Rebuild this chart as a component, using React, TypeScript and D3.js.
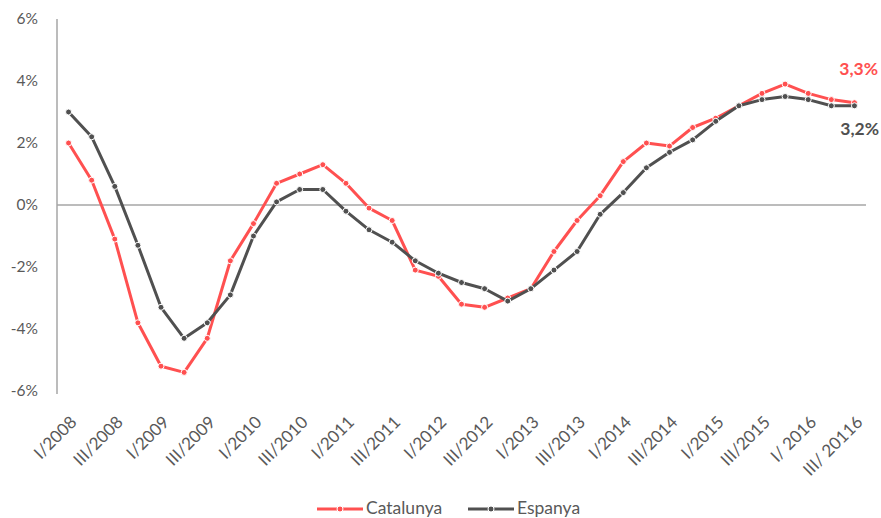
import React from "react";
import * as d3 from "d3";

const quarters = [
  "I/2008", "II/2008", "III/2008", "IV/2008",
  "I/2009", "II/2009", "III/2009", "IV/2009",
  "I/2010", "II/2010", "III/2010", "IV/2010",
  "I/2011", "II/2011", "III/2011", "IV/2011",
  "I/2012", "II/2012", "III/2012", "IV/2012",
  "I/2013", "II/2013", "III/2013", "IV/2013",
  "I/2014", "II/2014", "III/2014", "IV/2014",
  "I/2015", "II/2015", "III/2015", "IV/2015",
  "I/2016", "II/2016", "III/2016",
];

// labels shown on the axis (every other quarter), as printed in the source
const tickLabels = [
  "I/2008", "III/2008", "I/2009", "III/2009", "I/2010", "III/2010",
  "I/2011", "III/2011", "I/2012", "III/2012", "I/2013", "III/2013",
  "I/2014", "III/2014", "I/2015", "III/2015", "I/ 2016", "III/ 20116",
];

const catalunya = [
  2.0, 0.8, -1.1, -3.8, -5.2, -5.4, -4.3, -1.8, -0.6, 0.7, 1.0, 1.3,
  0.7, -0.1, -0.5, -2.1, -2.3, -3.2, -3.3, -3.0, -2.7, -1.5, -0.5, 0.3,
  1.4, 2.0, 1.9, 2.5, 2.8, 3.2, 3.6, 3.9, 3.6, 3.4, 3.3,
];

const espanya = [
  3.0, 2.2, 0.6, -1.3, -3.3, -4.3, -3.8, -2.9, -1.0, 0.1, 0.5, 0.5,
  -0.2, -0.8, -1.2, -1.8, -2.2, -2.5, -2.7, -3.1, -2.7, -2.1, -1.5, -0.3,
  0.4, 1.2, 1.7, 2.1, 2.7, 3.2, 3.4, 3.5, 3.4, 3.2, 3.2,
];

const yTicks = [-6, -4, -2, 0, 2, 4, 6];

const RED = "#FF5050";
const GREY = "#505050";
const FONT = "Lato, 'Open Sans', sans-serif";

export default function App() {
  const width = 881;
  const height = 518;
  const margin = { top: 19, right: 15, bottom: 127, left: 57 };

  const x = d3
    .scalePoint<string>()
    .domain(quarters)
    .range([margin.left, width - margin.right])
    .padding(0.5);

  const y = d3
    .scaleLinear()
    .domain([-6, 6])
    .range([height - margin.bottom, margin.top]);

  const line = d3
    .line<number>()
    .x((_, i) => x(quarters[i]) as number)
    .y((d) => y(d));

  const series = [
    { name: "Catalunya", values: catalunya, color: RED },
    { name: "Espanya", values: espanya, color: GREY },
  ];

  const last = quarters.length - 1;

  return (
    <svg width={width} height={height} style={{ position: "absolute", left: 0, top: 0 }}>
      {/* y axis */}
      <line x1={margin.left} x2={margin.left} y1={y(6)} y2={y(-6) + 3} stroke="#A6A6A6" strokeWidth={1.5} />
      <line x1={margin.left} x2={width - margin.right} y1={y(0)} y2={y(0)} stroke="#A6A6A6" strokeWidth={1.5} />
      {yTicks.map((t) => (
        <text
          key={t}
          x={38}
          y={y(t)}
          dy="0.35em"
          textAnchor="end"
          fontFamily={FONT}
          fontSize={15.5}
          fill="#595959"
        >
          {`${t}%`}
        </text>
      ))}

      {/* x tick labels */}
      {tickLabels.map((lab, i) => {
        const px = x(quarters[i * 2]) as number;
        return (
          <text
            key={lab}
            transform={`translate(${px + 5},${419}) rotate(-45)`}
            textAnchor="end"
            dy="0.35em"
            fontFamily={FONT}
            fontSize={17}
            fill="#595959"
          >
            {lab}
          </text>
        );
      })}

      {/* series */}
      {series.map((s) => (
        <g key={s.name}>
          <path d={line(s.values) ?? ""} fill="none" stroke={s.color} strokeWidth={3} strokeLinejoin="round" />
          {s.values.map((v, i) => (
            <circle
              key={i}
              cx={x(quarters[i]) as number}
              cy={y(v)}
              r={3}
              fill={s.color}
              stroke="#fff"
              strokeWidth={1}
            />
          ))}
        </g>
      ))}

      {/* end labels */}
      <text
        x={878}
        y={y(catalunya[last]) - 28}
        textAnchor="end"
        fontFamily={FONT}
        fontSize={17.5}
        fontWeight="bold"
        fill={RED}
      >
        {`${String(catalunya[last]).replace(".", ",")}%`}
      </text>
      <text
        x={879}
        y={y(espanya[last]) + 29}
        textAnchor="end"
        fontFamily={FONT}
        fontSize={17.5}
        fontWeight="bold"
        fill={GREY}
      >
        {`${String(espanya[last]).replace(".", ",")}%`}
      </text>

      {/* legend */}
      {series.map((s, i) => {
        const lx = 317 + i * 151;
        const ly = 509;
        return (
          <g key={s.name}>
            <line x1={lx} x2={lx + 46} y1={ly} y2={ly} stroke={s.color} strokeWidth={3} />
            <circle cx={lx + 23} cy={ly} r={3} fill={s.color} stroke="#fff" strokeWidth={1} />
            <text x={lx + 49} y={514} fontFamily={FONT} fontSize={17.5} fill="#595959">
              {s.name}
            </text>
          </g>
        );
      })}
    </svg>
  );
}
